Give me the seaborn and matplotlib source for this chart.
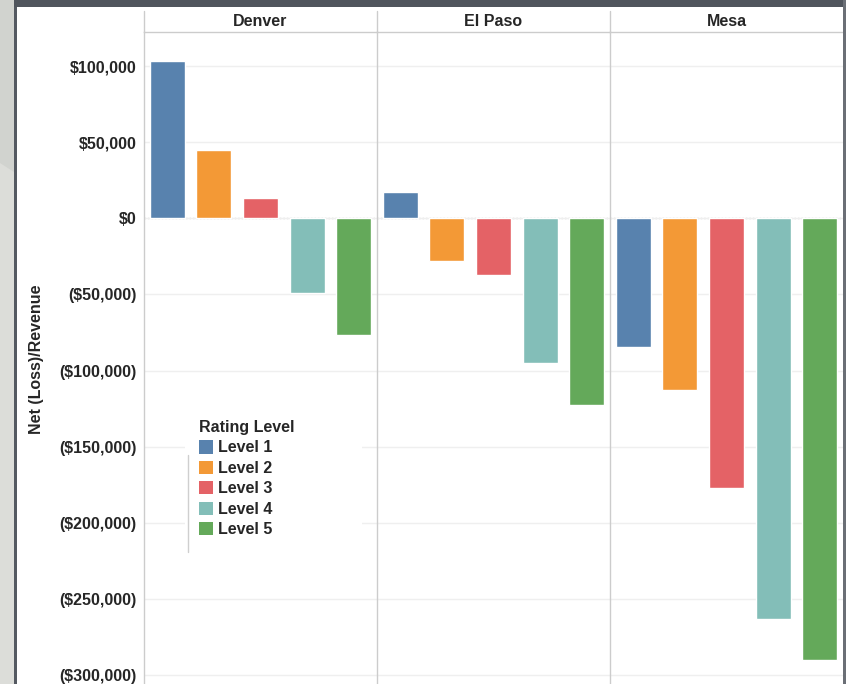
import pandas as pd
import seaborn as sns
import matplotlib.pyplot as plt
from matplotlib.patches import Rectangle, Polygon, Patch
from matplotlib.lines import Line2D
from matplotlib.ticker import FuncFormatter

cities = ["Denver", "El Paso", "Mesa"]
levels = ["Level 1", "Level 2", "Level 3", "Level 4", "Level 5"]
denver = [103000, 44700, 13100, -48800, -76400]
el_paso = [17100, -27800, -37400, -94800, -122400]
mesa = [-84300, -112600, -177000, -263200, -290200]
colors = ["#5882ae", "#f39936", "#e46266", "#83beb8", "#64a95a"]

df = pd.DataFrame({
    "city": [c for c in cities for _ in levels],
    "level": levels * len(cities),
    "value": denver + el_paso + mesa,
})

sns.set_style("white")
plt.rcParams["font.family"] = ["Liberation Sans", "DejaVu Sans"]
plt.rcParams["font.weight"] = "bold"
fs = 11.5

W, H = 846, 684
fig, axes = plt.subplots(1, 3, sharey=True, figsize=(W / 100, H / 100), dpi=100)
fig.subplots_adjust(left=144 / W, right=843 / W, bottom=0, top=1 - 31.7 / H, wspace=0)


def money(v, pos):
    if v < 0:
        return f"(${-v:,.0f})"
    return f"${v:,.0f}"


line_col = "#cccccc"
for ax, city in zip(axes, cities):
    sub = df[df["city"] == city]
    sns.barplot(data=sub, x="level", y="value", hue="level", palette=colors,
                order=levels, hue_order=levels, width=0.75, legend=False,
                saturation=1, ax=ax)
    ax.axhline(0, color="#c4c4c4", lw=1, ls=(0, (1, 1.5)), zorder=0.5)
    ax.set_axisbelow(True)
    ax.yaxis.grid(True, color="#efefef", lw=1)
    ax.set_xticks([])
    ax.set_xlabel("")
    ax.set_ylabel("")
    ax.set_xlim(-0.5, 4.5)
    for s in ["right", "bottom"]:
        ax.spines[s].set_visible(False)
    for s in ["left", "top"]:
        ax.spines[s].set_color(line_col)
        ax.spines[s].set_linewidth(1)
    ax.annotate(city, xy=(0.5, 1), xycoords="axes fraction", xytext=(0, 7.7),
                textcoords="offset points", ha="center", va="center",
                fontsize=fs, fontweight="bold")
    ax.tick_params(axis="y", length=0, pad=5.5, labelsize=fs)

axes[0].set_ylim(-305900, 122530)
axes[0].yaxis.set_major_locator(plt.MultipleLocator(50000))
axes[0].yaxis.set_major_formatter(FuncFormatter(money))
for lab in axes[0].get_yticklabels():
    lab.set_fontweight("bold")

fig.text(36.5 / W, 1 - 359.5 / H, "Net (Loss)/Revenue", rotation=90,
         ha="center", va="center", fontsize=fs, fontweight="bold")

# header divider lines
for x in [144, 377, 610]:
    fig.add_artist(Line2D([x / W, x / W], [1 - 11 / H, 1 - 31.7 / H],
                          color=line_col, lw=1))

# legend backdrop
fig.add_artist(Rectangle((185 / W, 1 - 545 / H), 177 / W, 130 / H,
                         transform=fig.transFigure, facecolor="white",
                         edgecolor="none", zorder=2))
fig.add_artist(Line2D([188 / W, 188 / W], [1 - 455 / H, 1 - 552 / H],
                      color="#cfcfcf", lw=1, zorder=3))
handles = [Patch(facecolor=c, edgecolor="none") for c in colors]
leg = fig.legend(handles, levels, title="Rating Level", loc="upper left",
                 bbox_to_anchor=(199 / W, 1 - 420 / H), frameon=False,
                 fontsize=fs, title_fontproperties={"weight": "bold", "size": fs},
                 handlelength=0.9, handleheight=0.9, handletextpad=0.3,
                 labelspacing=0.33, borderpad=0, borderaxespad=0,
                 alignment="left")
for t in leg.get_texts():
    t.set_fontweight("bold")

# screenshot frame
fig.add_artist(Rectangle((0, 0), 14 / W, 1, transform=fig.transFigure,
                         facecolor="#dcddd9", edgecolor="none", zorder=4))
fig.add_artist(Polygon([(0, 1), (14 / W, 1), (14 / W, 1 - 172 / H), (0, 1 - 163 / H)],
                       closed=True, transform=fig.transFigure,
                       facecolor="#d1d3cf", edgecolor="none", zorder=4))
fig.add_artist(Rectangle((14 / W, 0), 3 / W, 1, transform=fig.transFigure,
                         facecolor="#545961", edgecolor="none", zorder=4))
fig.add_artist(Rectangle((14 / W, 1 - 7 / H), 1 - 14 / W, 7 / H,
                         transform=fig.transFigure, facecolor="#50555d",
                         edgecolor="none", zorder=4))
fig.add_artist(Rectangle((843 / W, 0), 3 / W, 1, transform=fig.transFigure,
                         facecolor="#6b6f76", edgecolor="none", zorder=4))

plt.savefig("out.png", dpi=100)
